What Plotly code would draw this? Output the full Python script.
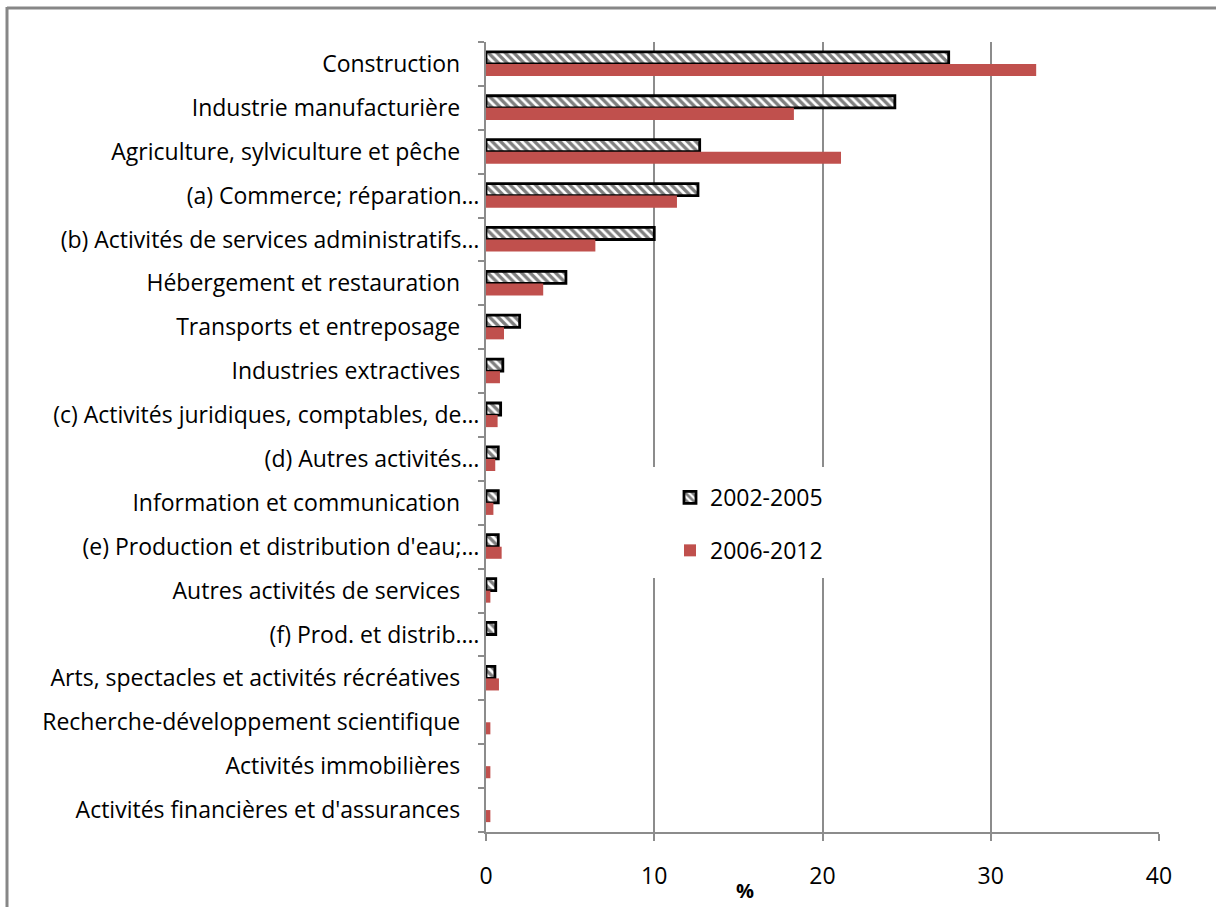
import plotly.graph_objects as go

categories = [
    "Construction",
    "Industrie manufacturière",
    "Agriculture, sylviculture et pêche",
    "(a) Commerce; réparation…",
    "(b) Activités de services administratifs…",
    "Hébergement et restauration",
    "Transports et entreposage",
    "Industries extractives",
    "(c) Activités juridiques, comptables, de…",
    "(d) Autres activités…",
    "Information et communication",
    "(e) Production et distribution d'eau;…",
    "Autres activités de services",
    "(f) Prod. et distrib.…",
    "Arts, spectacles et activités récréatives",
    "Recherche-développement scientifique",
    "Activités immobilières",
    "Activités financières et d'assurances",
]
vals_2002_2005 = [27.5, 24.3, 12.7, 12.6, 10.0, 4.75, 2.0, 1.0, 0.87, 0.73, 0.73, 0.73, 0.58, 0.58, 0.53, None, None, None]
vals_2006_2012 = [32.7, 18.3, 21.1, 11.35, 6.5, 3.4, 1.07, 0.83, 0.69, 0.55, 0.44, 0.93, 0.26, None, 0.77, 0.26, 0.26, 0.26]
x_ticks = [0, 10, 20, 30, 40]

FONT = "Open Sans"
FS = 23
GRID = "#8c8c8c"

# padded tick text: truncated labels (ending with …) extend further right
ticktext = [c if c.endswith("…") else c + "\u2002\u2004" for c in categories]

fig = go.Figure()
fig.add_trace(go.Bar(
    y=categories, x=vals_2002_2005, orientation="h", name="2002-2005",
    legendgroup="a",
    marker=dict(color="white",
                line=dict(color="black", width=2.8),
                pattern=dict(shape="\\", fgcolor="black", bgcolor="white", size=6, solidity=0.55)),
))
fig.add_trace(go.Bar(
    y=categories, x=vals_2006_2012, orientation="h", name="2006-2012",
    legendgroup="b",
    marker=dict(color="#C0504D", line=dict(width=0)),
))

W, H = 1216, 907
L, R, T, B = 486, 57, 42, 75
pw, ph = W - L - R, H - T - B

def px(xp):
    return (xp - L) / pw

def py(yp):
    return (H - B - yp) / ph

fig.update_layout(
    width=W, height=H,
    margin=dict(l=L, r=R, t=T, b=B),
    paper_bgcolor="white", plot_bgcolor="white",
    barmode="group", bargap=0.45, bargroupgap=0,
    font=dict(family=FONT, size=FS, color="black"),
    showlegend=True,
    legend=dict(x=px(670), y=py(476), xanchor="left", yanchor="top",
                bgcolor="white", traceorder="grouped", tracegroupgap=20,
                font=dict(family=FONT, size=FS, color="black"),
                itemwidth=30),
    xaxis=dict(range=[0, 40], tickvals=x_ticks, ticks="outside", ticklen=7,
               tickcolor=GRID, tickwidth=2, showgrid=True, gridcolor=GRID, gridwidth=2,
               showline=True, linecolor=GRID, linewidth=2, zeroline=False,
               tickfont=dict(family=FONT, size=FS, color="black"),
               ticklabelstandoff=15),
    yaxis=dict(autorange="reversed", tickmode="array", tickvals=categories, ticktext=ticktext,
               ticks="outside", tickson="boundaries", ticklen=6, tickcolor=GRID, tickwidth=2,
               showline=True, linecolor=GRID, linewidth=2, showgrid=False,
               tickfont=dict(family=FONT, size=FS, color="black"),
               ticklabelstandoff=0),
    annotations=[dict(text="<b>%</b>", x=px(745), y=py(890), xref="paper", yref="paper",
                      yanchor="middle", showarrow=False,
                      font=dict(family=FONT, size=20, color="black"))],
    shapes=[
        # white mask behind legend
        dict(type="rect", xref="paper", yref="paper", x0=px(640), x1=px(835), y0=py(578), y1=py(467),
             fillcolor="white", line=dict(width=0), layer="above"),
        # outer chart border (top and left)
        dict(type="line", xref="paper", yref="paper", x0=px(7), x1=px(1220), y0=py(8), y1=py(8),
             line=dict(color="#878787", width=3)),
        dict(type="line", xref="paper", yref="paper", x0=px(7), x1=px(7), y0=py(7), y1=py(912),
             line=dict(color="#878787", width=3)),
    ],
)

fig.write_html("out.html")
